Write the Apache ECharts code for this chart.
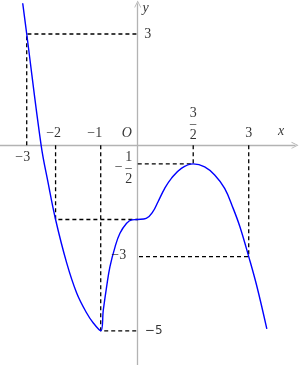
<!DOCTYPE html>
<html>
<head>
<meta charset="utf-8">
<script src="https://cdn.jsdelivr.net/npm/echarts@6/dist/echarts.min.js"></script>
<style>
  html, body { margin: 0; padding: 0; background: #fff; }
  #main { width: 300px; height: 365px; }
</style>
</head>
<body>
<div id="main"></div>
<script>
// curve
var curveX = [-3.12, -3.0, -2.61, -2.42, -2.22, -1.92, -1.65, -1.38, -1.2, -1.0, -0.93, -0.84, -0.75, -0.61, -0.48, -0.3, -0.16, 0, 0.23, 0.41, 0.55, 0.73, 0.91, 1.18, 1.5, 1.81, 2.08, 2.35, 2.58, 2.76, 3.0, 3.22, 3.49];
var curveY = [3.92, 3.0, 0, -1.02, -2.0, -3.17, -3.98, -4.52, -4.79, -5.0, -4.44, -3.81, -3.27, -2.73, -2.37, -2.1, -2.01, -2.0, -1.97, -1.79, -1.52, -1.16, -0.89, -0.62, -0.5, -0.58, -0.8, -1.16, -1.7, -2.19, -3.0, -3.8, -4.95];

// guide points (x, f(x)) with dashed projections to the axes
var guideX = [-3, -2.22, -1, 1.5, 3];
var guideY = [3, -2, -5, -0.5, -3];

// tick labels
var xTickVals = [-3, -2.22, -1, 0, 1.5, 3];
var xTickText = ['−3', '−2', '−1', 'O', '3/2', '3'];
var yTickVals = [3, -0.5, -3, -5];
var yTickText = ['3', '−1/2', '−3', '−5'];

var serif = '"Liberation Serif", "DejaVu Serif", serif';

var curve = [];
for (var i = 0; i < curveX.length; i++) curve.push([curveX[i], curveY[i]]);

var series = [];
for (var g = 0; g < guideX.length; g++) {
    series.push({
        type: 'line',
        symbol: 'none',
        silent: true,
        z: 2,
        lineStyle: { color: '#000', width: 1.3, type: [4, 3] },
        data: [[guideX[g], 0], [guideX[g], guideY[g]], [0, guideY[g]]]
    });
}
series.push({
    type: 'line',
    symbol: 'none',
    smooth: 0.4,
    z: 3,
    lineStyle: { color: '#0000ff', width: 1.4 },
    data: curve
});

// label placement (pixel nudges only)
var xOffsets = [[-4, 12], [-2, -12], [-6, -12], [-11, -12], [0, -22], [0, -12]];
var yOffsets = [[10, 0], [-9, 3], [-19, -1], [16, 0]];

function frac(s) {
    var p = s.replace('−', '').split('/');
    return '{n|' + p[0] + '}\n{b|−}\n{d|' + p[1] + '}';
}
var richFrac = {
    n: { fontFamily: serif, fontSize: 14, lineHeight: 14, color: '#000' },
    b: { fontFamily: serif, fontSize: 14, lineHeight: 10, color: '#000' },
    d: { fontFamily: serif, fontSize: 14, lineHeight: 10, color: '#000' }
};

var labels = [];
function addLabel(pt, text, off, extra) {
    var lab = {
        show: true, position: 'inside', offset: off,
        fontFamily: serif, fontSize: 14, color: '#000',
        formatter: text, rich: richFrac
    };
    for (var k in extra) lab[k] = extra[k];
    labels.push({ value: pt, label: lab });
}
for (var a = 0; a < xTickVals.length; a++) {
    var t = xTickText[a];
    var ex = {};
    if (t === 'O') ex.fontStyle = 'italic';
    if (t.indexOf('/') >= 0) t = frac(t);
    addLabel([xTickVals[a], 0], t, xOffsets[a], ex);
}
for (var b = 0; b < yTickVals.length; b++) {
    var s = yTickText[b];
    if (s.indexOf('/') >= 0) {
        addLabel([0, yTickVals[b]], '−', [yOffsets[b][0] - 10, yOffsets[b][1]], {});
        addLabel([0, yTickVals[b]], frac(s), yOffsets[b], {});
    } else if (s === '−5') {
        addLabel([0, yTickVals[b]], s, yOffsets[b], { fontFamily: '"DejaVu Sans", sans-serif', fontSize: 12 });
    } else {
        addLabel([0, yTickVals[b]], s, yOffsets[b], {});
    }
}
// axis names
addLabel([3.9, 0], 'x', [-1, -14], { fontStyle: 'italic' });
addLabel([0, 3.8], 'y', [8, 4], { fontStyle: 'italic' });

series.push({
    type: 'scatter',
    symbolSize: 1,
    silent: true,
    z: 5,
    itemStyle: { color: 'rgba(0,0,0,0)' },
    data: labels
});

var arrow = 'path://M0,10 L5,0 L10,10 L8.8,10 L5,2.4 L1.2,10 Z';
var axisLine = {
    show: true, onZero: true,
    symbol: ['none', arrow], symbolSize: [8, 7],
    lineStyle: { color: '#b3b3b3', width: 1.3 }
};

var chart = echarts.init(document.getElementById('main'));
chart.setOption({
    animation: false,
    grid: { left: 0, right: 5, top: 4, bottom: 0 },
    xAxis: {
        type: 'value', min: -3.722, max: 4.251,
        axisLine: axisLine, axisTick: { show: false },
        axisLabel: { show: false }, splitLine: { show: false }
    },
    yAxis: {
        type: 'value', min: -5.922, max: 3.809,
        axisLine: axisLine, axisTick: { show: false },
        axisLabel: { show: false }, splitLine: { show: false }
    },
    series: series
});
</script>
</body>
</html>
